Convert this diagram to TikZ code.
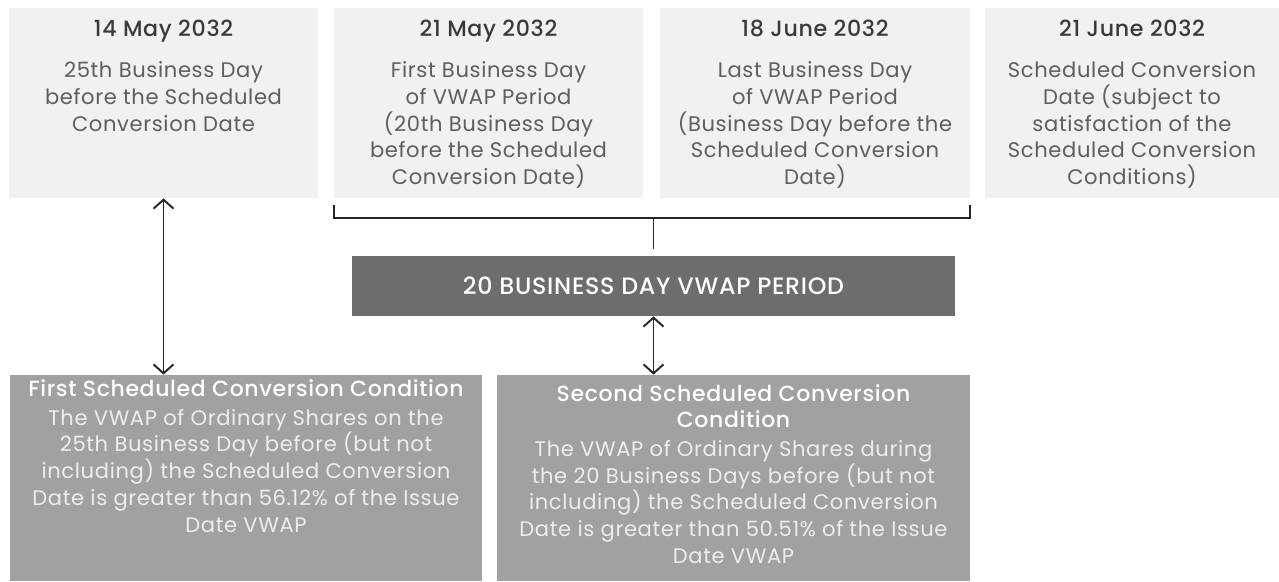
\documentclass[tikz,border=0pt]{standalone}
\usepackage{fontspec}
\setmainfont{Poppins}[LetterSpace=3, BoldFont={Poppins Medium}, BoldFeatures={LetterSpace=3}]
\usetikzlibrary{arrows.meta}
\definecolor{datefill}{HTML}{F1F1F3}
\definecolor{titlegrey}{HTML}{3A3A3A}
\definecolor{bodygrey}{HTML}{5E5E5E}
\definecolor{periodfill}{HTML}{6D6D6F}
\definecolor{condfill}{HTML}{A1A1A4}
\definecolor{condbody}{HTML}{EDEDEE}
\definecolor{linegrey}{HTML}{262626}

\begin{document}
\begin{tikzpicture}[scale = 1,
  datebox/.style = {fill=datefill, minimum height=3.8cm, inner sep=0pt},
  datetext/.style = {anchor=north, align=center, inner sep=0pt, text=bodygrey,
    font=\fontsize{12}{15.2}\selectfont},
  condbox/.style = {fill=condfill, minimum height=4.12cm, inner sep=0pt},
  condtext/.style = {anchor=north, align=center, inner sep=0pt, text=condbody,
    font=\fontsize{12}{15.2}\selectfont},
  bracketline/.style = {draw=linegrey, line width=1.1pt},
  twoway/.style = {draw=linegrey, line width=1.1pt,
    {Straight Barb[length=0.18cm, width=0.40cm]}-{Straight Barb[length=0.18cm, width=0.40cm]}}
] 
\useasboundingbox (0, 0) rectangle (25.58, 11.62);

% date boxes along the top
\node[datebox, minimum width=6.18cm] (d14may) at (3.27, 9.56){};
\node[datebox, minimum width=6.18cm] (d21may) at (9.77, 9.56){};
\node[datebox, minimum width=6.20cm] (d18jun) at (16.30, 9.56){};
\node[datebox, minimum width=5.88cm] (d21jun) at (22.64, 9.56){};

\node[datetext] (t14may) at (3.27, 11.22){{\fontsize{12.6}{14}\selectfont\bfseries\color{titlegrey}14 May 2032}\\[8pt]
  25th Business Day\\before the Scheduled\\Conversion Date};
\node[datetext] (t21may) at (9.77, 11.22){{\fontsize{12.6}{14}\selectfont\bfseries\color{titlegrey}21 May 2032}\\[8pt]
  First Business Day\\of VWAP Period\\(20th Business Day\\before the Scheduled\\Conversion Date)};
\node[datetext] (t18jun) at (16.30, 11.22){{\fontsize{12.6}{14}\selectfont\bfseries\color{titlegrey}18 June 2032}\\[8pt]
  Last Business Day\\of VWAP Period\\(Business Day before the\\Scheduled Conversion\\Date)};
\node[datetext] (t21jun) at (22.64, 11.22){{\fontsize{12.6}{14}\selectfont\bfseries\color{titlegrey}21 June 2032}\\[8pt]
  Scheduled Conversion\\Date (subject to\\satisfaction of the\\Scheduled Conversion\\Conditions)};

% the VWAP period bar
\node[fill=periodfill, minimum width=12.06cm, minimum height=1.2cm, inner sep=0pt, text=white,
  font=\fontsize{13.5}{15}\selectfont\bfseries] (vwap) at (13.07, 5.9){20 BUSINESS DAY VWAP PERIOD};

% conditions
\node[condbox, minimum width=9.44cm] (condone) at (4.92, 2.06){};
\node[condbox, minimum width=9.46cm] (condtwo) at (14.67, 2.06){};

\node[condtext] (tcondone) at (4.92, 4.03){{\fontsize{12.5}{15}\selectfont\bfseries\color{white}First Scheduled Conversion Condition}\\[1pt]
  The VWAP of Ordinary Shares on the\\25th Business Day before (but not\\including) the Scheduled Conversion\\Date is greater than 56.12\% of the Issue\\Date VWAP};
\node[condtext] (tcondtwo) at (14.67, 3.94){{\fontsize{12.5}{15}\selectfont\bfseries\color{white}Second Scheduled Conversion}\\{\fontsize{12.5}{15}\selectfont\bfseries\color{white}Condition}\\[1pt]
  The VWAP of Ordinary Shares during\\the 20 Business Days before (but not\\including) the Scheduled Conversion\\Date is greater than 50.51\% of the Issue\\Date VWAP};

% bracket over the period
\coordinate (brkleft) at ([yshift=-0.40cm]d21may.south west);
\draw[bracketline] ([yshift=-0.14cm]d21may.south west) -- (brkleft)
  -| ([yshift=-0.14cm]d18jun.south east);
\draw[bracketline] ([yshift=0.14cm]vwap.north) -- (vwap.north |- brkleft);

% arrows
\draw[twoway] (d14may.south) -- (d14may.south |- condone.north);
\draw[twoway] (vwap.south) -- (vwap.south |- condtwo.north);
\end{tikzpicture}
\end{document}
